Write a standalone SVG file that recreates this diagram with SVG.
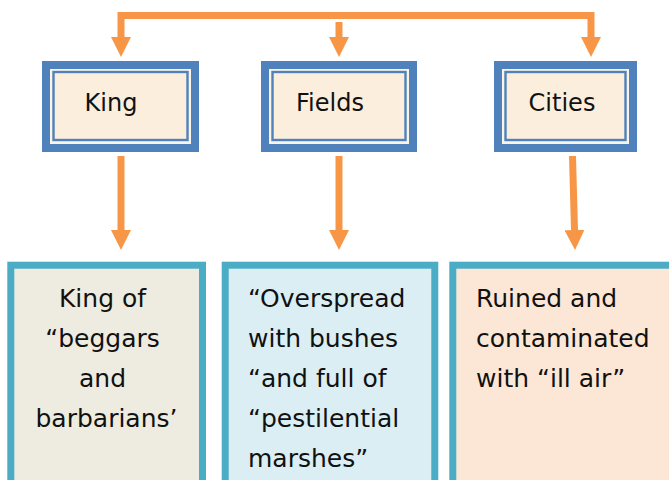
<svg xmlns="http://www.w3.org/2000/svg" width="669" height="480" viewBox="0 0 669 480">
<defs>
<marker id="ah" viewBox="0 0 20 20" refX="0" refY="10" markerWidth="20" markerHeight="20" markerUnits="userSpaceOnUse" orient="auto-start-reverse">
<path d="M0,0 L20,10 L0,20 Z" fill="#F79646"/>
</marker>
</defs>
<style>
.conn{fill:none;stroke:#F79646;stroke-width:7;stroke-linejoin:miter;stroke-linecap:butt}
.outer{fill:#4F81BD}
.band{fill:#FBF3E4}
.inner{fill:#FBEEDC;stroke:#4F81BD;stroke-width:2.4}
.lbl{font-family:"DejaVu Sans",sans-serif;font-size:24px;fill:#111;text-anchor:middle}
.card{stroke:#4BACC6;stroke-width:7}
.txt{font-family:"DejaVu Sans",sans-serif;font-size:25px;fill:#111}
</style>
<rect width="669" height="480" fill="#fff"/>
<g id="connectors">
<path class="conn" d="M121,37 V15.5 H591 V37" marker-start="url(#ah)" marker-end="url(#ah)"/>
<path class="conn" d="M339,22 V37" marker-end="url(#ah)"/>
<path class="conn" d="M121,156 V230" marker-end="url(#ah)"/>
<path class="conn" d="M339,156 V230" marker-end="url(#ah)"/>
<path class="conn" d="M572.5,156 L574.5,230" marker-end="url(#ah)"/>
</g>
<g id="king">
<rect class="outer" x="42" y="61" width="157" height="91"/>
<rect class="band" x="50" y="69" width="141" height="75"/>
<rect class="inner" x="53.5" y="72" width="134" height="68"/>
<text class="lbl" x="111" y="111">King</text>
</g>
<g id="fields">
<rect class="outer" x="261" y="61" width="156" height="91"/>
<rect class="band" x="269" y="69" width="140" height="75"/>
<rect class="inner" x="272.5" y="72" width="133" height="68"/>
<text class="lbl" x="330" y="111">Fields</text>
</g>
<g id="cities">
<rect class="outer" x="494" y="61" width="143" height="91"/>
<rect class="band" x="502" y="69" width="127" height="75"/>
<rect class="inner" x="505.5" y="72" width="120" height="68"/>
<text class="lbl" x="562" y="111">Cities</text>
</g>
<g id="king-desc">
<rect class="card" x="10.8" y="265.2" width="191.7" height="300" fill="#EEEBE0"/>
<text class="txt" text-anchor="middle">
<tspan x="106.5" y="307">King of</tspan>
<tspan x="106.5" y="347">“beggars</tspan>
<tspan x="106.5" y="387">and</tspan>
<tspan x="106.5" y="427">barbarians’</tspan>
</text>
</g>
<g id="fields-desc">
<rect class="card" x="225.2" y="265.2" width="209.6" height="300" fill="#DBEEF4"/>
<text class="txt">
<tspan x="248" y="307">“Overspread</tspan>
<tspan x="248" y="347">with bushes</tspan>
<tspan x="248" y="387">“and full of</tspan>
<tspan x="248" y="427">“pestilential</tspan>
<tspan x="248" y="467">marshes”</tspan>
</text>
</g>
<g id="cities-desc">
<rect class="card" x="452.8" y="265.2" width="240" height="300" fill="#FCE7D7"/>
<text class="txt">
<tspan x="476" y="307">Ruined and</tspan>
<tspan x="476" y="347">contaminated</tspan>
<tspan x="476" y="387">with “ill air”</tspan>
</text>
</g>
</svg>
